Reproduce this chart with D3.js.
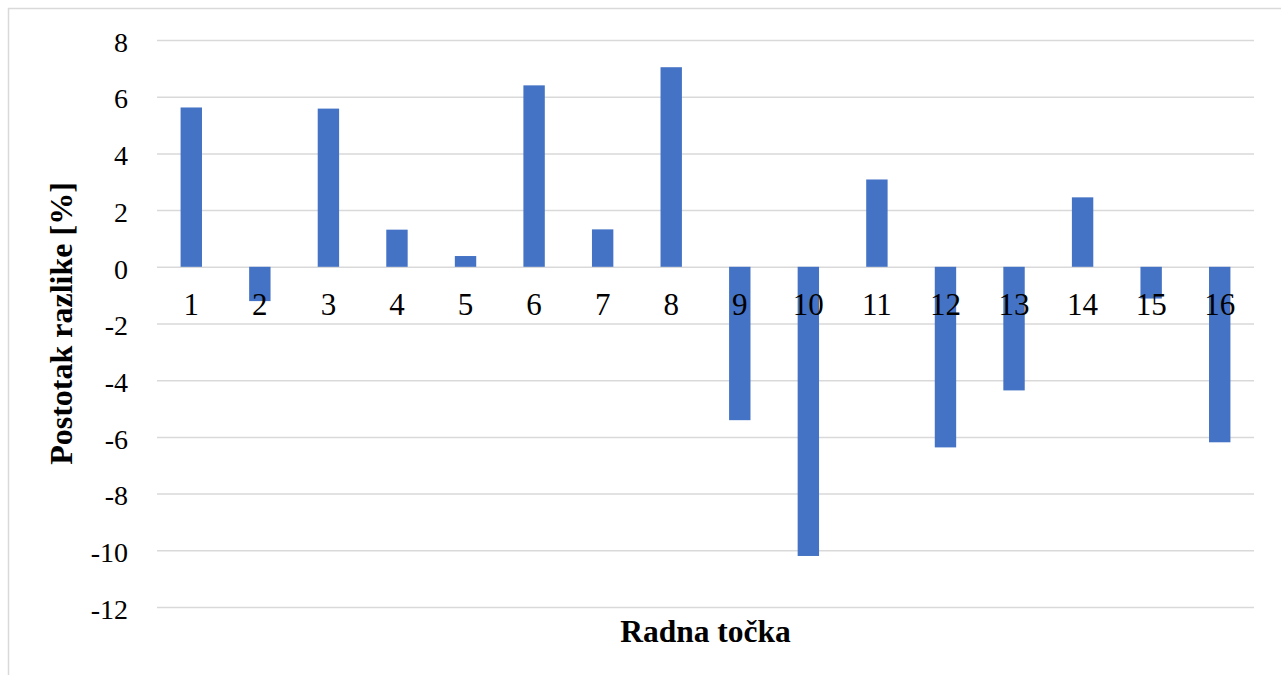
<!DOCTYPE html>
<html><head><meta charset="utf-8">
<script src="https://cdn.jsdelivr.net/npm/d3@7"></script>
<style>body{margin:0;background:#fff}svg{display:block}
svg text{font-family:"Liberation Serif","Times New Roman",Times,"DejaVu Serif",serif;}</style>
</head><body>
<svg id="c" width="1281" height="675"></svg>
<script>
const categories = ["1","2","3","4","5","6","7","8","9","10","11","12","13","14","15","16"];
const values = [5.62,-1.21,5.58,1.31,0.38,6.4,1.32,7.04,-5.41,-10.2,3.08,-6.37,-4.36,2.45,-1.12,-6.19];
const yTicks = [8,6,4,2,0,-2,-4,-6,-8,-10,-12];
const yTitle = "Postotak razlike [%]";
const xTitle = "Radna točka";

const svg = d3.select("#c");
const W = 1281, H = 675;
const m = {left:157, right:1254, top:40, bottom:607};
svg.append("rect").attr("x",8.5).attr("y",8.5).attr("width",W).attr("height",H)
  .attr("fill","#fff").attr("stroke","#d9d9d9").attr("stroke-width",1.5);

const x = d3.scaleBand().domain(categories).range([m.left,m.right]).paddingInner(0.688).paddingOuter(0.344);
const y = d3.scaleLinear().domain([-12,8]).range([m.bottom,m.top]);

// gridlines
const yAxis = d3.axisLeft(y).tickValues(yTicks).tickSize(-(m.right-m.left)).tickPadding(29).tickFormat(d=>d);
const ga = svg.append("g").attr("transform",`translate(${m.left},0)`).call(yAxis);
ga.attr("font-family",null);
ga.select(".domain").remove();
ga.selectAll(".tick line").attr("stroke","#d9d9d9").attr("stroke-width",1.5);
ga.selectAll(".tick text").attr("font-size",28).attr("fill","#000").attr("dy","0.4em");

// bars
svg.append("g").selectAll("rect").data(values).join("rect")
  .attr("x",(d,i)=>x(categories[i]))
  .attr("width",x.bandwidth())
  .attr("y",d=>y(Math.max(0,d)))
  .attr("height",d=>Math.abs(y(d)-y(0)))
  .attr("fill","#4472C4");

// category labels
const xAxis = d3.axisBottom(x).tickSize(0).tickPadding(0);
const gx = svg.append("g").attr("transform",`translate(0,${y(0)})`).call(xAxis);
gx.attr("font-family",null);
gx.select(".domain").remove();
gx.selectAll(".tick text").attr("font-size",31).attr("fill","#000")
  .attr("dy",null).attr("y",48);

// titles
svg.append("text").attr("transform",`translate(72,${(m.top+m.bottom)/2}) rotate(-90)`)
  .attr("text-anchor","middle").attr("font-weight","bold").attr("font-size",32)
  .text(yTitle);
svg.append("text").attr("x",(m.left+m.right)/2).attr("y",642)
  .attr("text-anchor","middle").attr("font-weight","bold").attr("font-size",31.5)
  .text(xTitle);
</script>
</body></html>
